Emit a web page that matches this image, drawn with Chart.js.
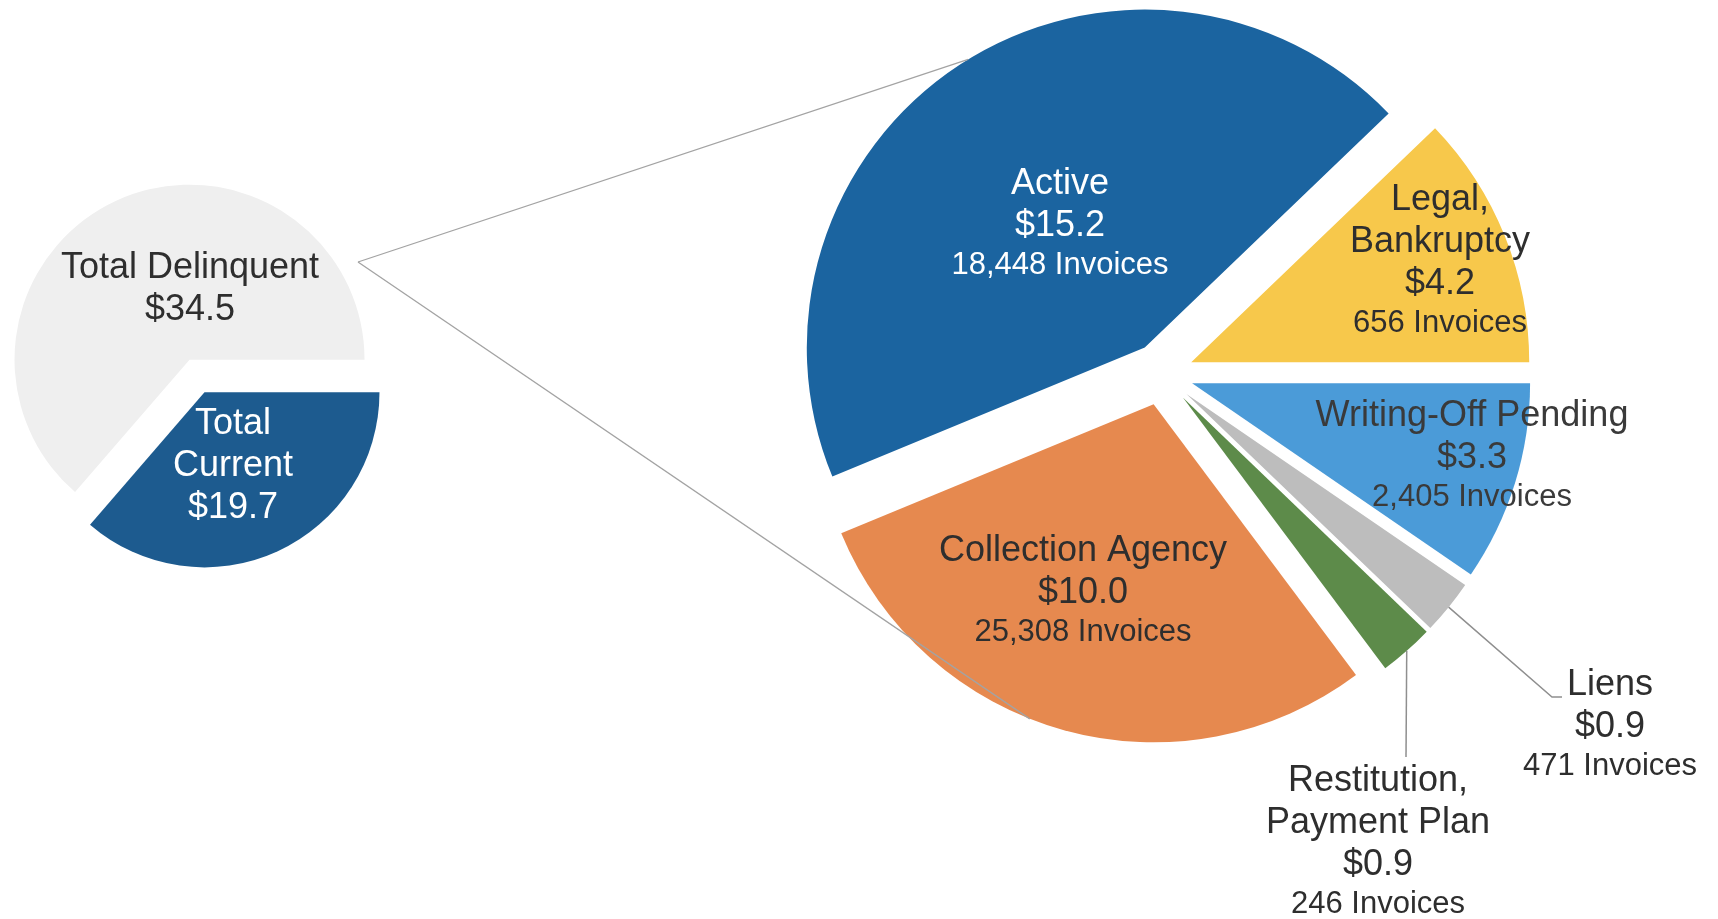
<!DOCTYPE html>
<html>
<head>
<meta charset="utf-8">
<script src="https://cdn.jsdelivr.net/npm/chart.js@4.4.1/dist/chart.umd.min.js"></script>
<style>
  html, body { margin: 0; padding: 0; background: #ffffff; }
  #wrap { position: relative; width: 1718px; height: 919px; overflow: hidden; }
  #wrap canvas { position: absolute; left: 0; top: 0; }
</style>
</head>
<body>
<div id="wrap">
  <canvas id="smallPie" width="1718" height="919"></canvas>
  <canvas id="bigPie" width="1718" height="919"></canvas>
</div>
<script>
// left pie: whole portfolio
const smallNames = [['Total', 'Current'], ['Total Delinquent']];
const smallValues = [19.7, 34.5];
const smallColors = ['#1d5b8f', '#efefef'];

// right pie: breakdown of delinquent
const bigNames = [['Legal,', 'Bankruptcy'], ['Writing-Off Pending'], ['Liens'],
                  ['Restitution,', 'Payment Plan'], ['Collection Agency'], ['Active']];
const bigValues = [4.2, 3.3, 0.9, 0.9, 10.0, 15.2];
const bigInvoices = [656, 2405, 471, 246, 25308, 18448];
const bigColors = ['#f7c84b', '#4b9bd8', '#bdbdbd', '#5d8b4a', '#e6894f', '#1b64a0'];

const FONT = '"Liberation Sans", Arial, sans-serif';
const DARK = '#2e2e2e';

function sum(arr) {
    return arr.reduce((a, b) => a + b, 0);
}

// draws each slice pushed out along its mid angle (pie-of-pie "explosion")
const explode = {
    id: 'explode',
    beforeDatasetDraw(chart, args, opts) {
        const ctx = chart.ctx;
        ctx.save();
        if (opts.clipRight) {
            ctx.beginPath();
            ctx.rect(0, 0, opts.clipRight, chart.height);
            ctx.clip();
        }
        args.meta.data.forEach(arc => {
            const mid = (arc.startAngle + arc.endAngle) / 2;
            ctx.save();
            ctx.translate(Math.cos(mid) * opts.shift, Math.sin(mid) * opts.shift);
            arc.draw(ctx);
            ctx.restore();
        });
        ctx.restore();
        return false;
    }
};

// point on the outer edge of an exploded slice
function edgePoint(arc, shift, angleDeg) {
    const mid = (arc.startAngle + arc.endAngle) / 2;
    const a = angleDeg === undefined ? mid : angleDeg * Math.PI / 180;
    return {
        x: arc.x + Math.cos(mid) * shift + Math.cos(a) * arc.outerRadius,
        y: arc.y + Math.sin(mid) * shift + Math.sin(a) * arc.outerRadius
    };
}

const sliceLabels = {
    id: 'sliceLabels',
    afterDatasetsDraw(chart, args, opts) {
        const ctx = chart.ctx;
        const arcs = chart.getDatasetMeta(0).data;
        const cx = arcs[0].x, cy = arcs[0].y;
        const shift = chart.options.plugins.explode.shift;
        ctx.save();

        // leader lines for the thin slices
        ctx.strokeStyle = '#8f8f8f';
        ctx.lineWidth = 1.5;
        (opts.leaders || []).forEach((pts, i) => {
            if (!pts) return;
            const p0 = edgePoint(arcs[i], shift);
            ctx.beginPath();
            ctx.moveTo(p0.x, p0.y);
            pts.forEach(p => ctx.lineTo(cx + p[0], cy + p[1]));
            ctx.stroke();
        });

        ctx.textAlign = 'center';
        ctx.textBaseline = 'middle';
        opts.names.forEach((name, i) => {
            const lines = name.map(t => [t, 36]);
            lines.push(['$' + opts.values[i].toFixed(1), 36]);
            if (opts.invoices) lines.push([opts.invoices[i].toLocaleString('en-US') + ' Invoices', 31]);
            let x = cx + opts.spots[i][0];
            let y = cy + opts.spots[i][1];
            ctx.fillStyle = opts.colors[i];
            lines.forEach((ln, k) => {
                if (k > 0) y += ln[1] < 36 ? 39 : 42;
                ctx.font = ln[1] + 'px ' + FONT;
                ctx.fillText(ln[0], x, y);
            });
        });
        ctx.restore();
    }
};

const smallChart = new Chart(document.getElementById('smallPie'), {
    type: 'pie',
    data: {
        labels: smallNames.map(n => n.join(' ')),
        datasets: [{
            data: smallValues,
            backgroundColor: smallColors,
            borderWidth: 0,
            radius: 175,
            rotation: 90
        }]
    },
    options: {
        responsive: false,
        animation: false,
        devicePixelRatio: 1,
        layout: { padding: { left: 7, right: 1331, top: 186, bottom: 353 } },
        plugins: {
            legend: { display: false },
            tooltip: { enabled: false },
            explode: { shift: 18 },
            sliceLabels: {
                names: smallNames,
                values: smallValues,
                colors: ['#ffffff', DARK],
                spots: [[36, 48], [-7, -108]]
            }
        }
    },
    plugins: [explode, sliceLabels]
});

// thin grey lines joining the two pies
const seriesLines = {
    id: 'seriesLines',
    afterDatasetsDraw(chart) {
        const ctx = chart.ctx;
        const arcs = chart.getDatasetMeta(0).data;
        const small = smallChart.getDatasetMeta(0).data[0];
        const shift = chart.options.plugins.explode.shift;
        const start = { x: small.x + 161, y: small.y - 114 };
        const ends = [edgePoint(arcs[5], shift, -121.5), edgePoint(arcs[4], shift, 111.5)];
        ctx.save();
        ctx.strokeStyle = '#a3a3a3';
        ctx.lineWidth = 1.3;
        ends.forEach(e => {
            ctx.beginPath();
            ctx.moveTo(start.x, start.y);
            ctx.lineTo(e.x, e.y);
            ctx.stroke();
        });
        ctx.restore();
    }
};

new Chart(document.getElementById('bigPie'), {
    type: 'pie',
    data: {
        labels: bigNames.map(n => n.join(' ')),
        datasets: [{
            data: bigValues,
            backgroundColor: bigColors,
            borderWidth: 0,
            radius: 338,
            rotation: 90 - 360 * bigValues[0] / sum(bigValues)
        }]
    },
    options: {
        responsive: false,
        animation: false,
        devicePixelRatio: 1,
        layout: { padding: { left: 802, right: 196, top: 14, bottom: 185 } },
        plugins: {
            legend: { display: false },
            tooltip: { enabled: false },
            explode: { shift: 31.5, clipRight: 1531 },
            sliceLabels: {
                names: bigNames,
                values: bigValues,
                invoices: bigInvoices,
                colors: [DARK, '#3a3a3a', DARK, DARK, DARK, '#ffffff'],
                spots: [[278, -174], [310, 42], [448, 311], [216, 407], [-79, 177], [-102, -190]],
                leaders: [null, null, [[390, 323], [400, 323]], [[244, 383]], null, null]
            }
        }
    },
    plugins: [explode, seriesLines, sliceLabels]
});
</script>
</body>
</html>
